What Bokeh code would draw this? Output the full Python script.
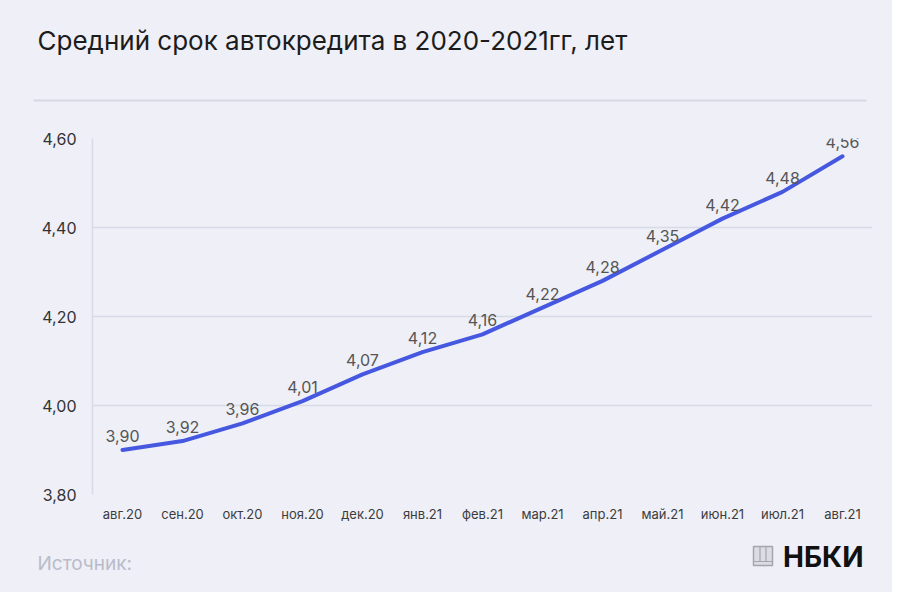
from bokeh.plotting import figure
from bokeh.layouts import column
from bokeh.models import Range1d, FixedTicker, CustomJSTickFormatter, LabelSet, ColumnDataSource
from bokeh.core.properties import value
from bokeh.embed import file_html
from bokeh.resources import INLINE

months = ["авг.20", "сен.20", "окт.20", "ноя.20", "дек.20", "янв.21", "фев.21",
          "мар.21", "апр.21", "май.21", "июн.21", "июл.21", "авг.21"]
values = [3.90, 3.92, 3.96, 4.01, 4.07, 4.12, 4.16, 4.22, 4.28, 4.35, 4.42, 4.48, 4.56]
y_ticks = [3.80, 4.00, 4.20, 4.40, 4.60]
title_text = "Средний срок автокредита в 2020-2021гг,  лет"
source_text = "Источник:"
brand_text = "НБКИ"

CARD = "#eeeff7"
GRID = "#d8dbe6"
FONT = "Inter"
W = 892


def no_align(f):
    try:
        f.frame_align = False
    except Exception:
        pass
    return f


def panel(height):
    f = figure(width=W, height=height, x_range=Range1d(0, W), y_range=Range1d(height, 0),
               output_backend="svg", toolbar_location=None, x_axis_type=None, y_axis_type=None,
               min_border=0, background_fill_color=CARD, border_fill_color=CARD,
               outline_line_color=None)
    f.grid.grid_line_color = None
    return no_align(f)


# ---- header: title + separator (pixel space of the card) ----
top = panel(110)
top.text(x=[37], y=[40], text=[title_text], text_font=value(FONT), text_font_size="26px",
         text_color="#1c1c1c", text_baseline="alphabetic")
top.segment(x0=[33], y0=[100], x1=[866], y1=[100], line_color="#d6d8e2", line_width=2)

# ---- main chart ----
labels = [f"{v:.2f}".replace(".", ",") for v in values]
src = ColumnDataSource(dict(month=months, value=values, label=labels))

p = figure(x_range=months, y_range=Range1d(3.80, 4.60), width=W, height=420,
           output_backend="svg", toolbar_location=None,
           min_border_left=92, min_border_right=20, min_border_top=28, min_border_bottom=36,
           background_fill_color=CARD, border_fill_color=CARD, outline_line_color=None)
no_align(p)

p.line(x="month", y="value", source=src, line_width=4, line_color="#4658e0",
       line_cap="round", line_join="round")

p.add_layout(LabelSet(x="month", y="value", text="label", source=src,
                      text_align="center", text_baseline="bottom", y_offset=8,
                      text_font=value(FONT), text_font_size="16px", text_color="#555555"))

p.yaxis.ticker = FixedTicker(ticks=y_ticks)
p.yaxis.formatter = CustomJSTickFormatter(code="return tick.toFixed(2).replace('.', ',');")
p.yaxis.axis_line_color = GRID
p.yaxis.axis_line_width = 1.5
p.yaxis.major_tick_line_color = None
p.yaxis.minor_tick_line_color = None
p.yaxis.major_label_standoff = 10
p.yaxis.major_label_text_font = FONT
p.yaxis.major_label_text_font_size = "16px"
p.yaxis.major_label_text_color = "#333333"

p.xaxis.axis_line_color = None
p.xaxis.major_tick_line_color = None
p.xaxis.minor_tick_line_color = None
p.xaxis.major_label_standoff = 5
p.xaxis.major_label_text_font = FONT
p.xaxis.major_label_text_font_size = "13px"
p.xaxis.major_label_text_color = "#3c3c3c"

p.xgrid.grid_line_color = None
p.ygrid.grid_line_color = GRID
p.ygrid.grid_line_width = 1.5

# ---- footer: source + logo (pixel space, origin at y=530 of the card) ----
bot = panel(62)
bot.text(x=[37], y=[33], text=[source_text], text_font=value(FONT), text_font_size="19px",
         text_color="#b9bcc9", text_baseline="alphabetic")
bot.text(x=[863], y=[26], text=[brand_text], text_font=value(FONT), text_font_size="28px",
         text_font_style="bold", text_color="#111111", text_align="right",
         text_baseline="alphabetic")
# logo icon
bot.quad(left=[753], right=[772], top=[16], bottom=[35], fill_color="#dcdde3",
         line_color="#a4a6ae", line_width=1.5)
bot.segment(x0=[759.5, 765.5], y0=[16, 16], x1=[759.5, 765.5], y1=[31, 31],
            line_color="#a4a6ae", line_width=1.2)
bot.segment(x0=[753], y0=[31], x1=[772], y1=[31], line_color="#a4a6ae", line_width=1.2)

layout = column(top, p, bot, spacing=0, styles={"background-color": CARD})
open("out.html", "w").write(file_html(layout, INLINE))
